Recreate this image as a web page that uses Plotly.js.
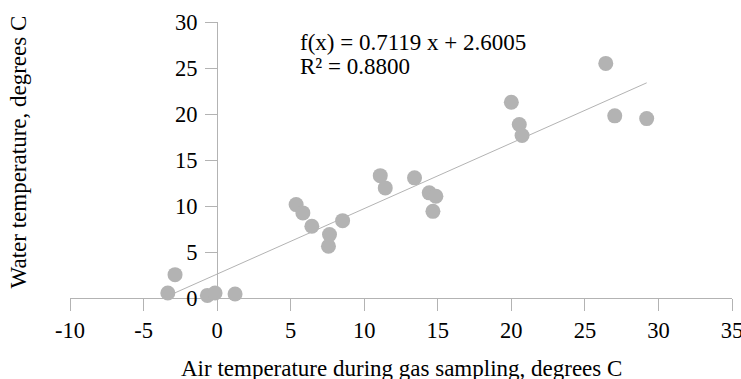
<!DOCTYPE html>
<html>
<head>
<meta charset="utf-8">
<script src="https://cdn.plot.ly/plotly-3.0.1.min.js"></script>
<style>html,body{margin:0;padding:0;background:#fff;}#chart{width:741px;height:379px;}</style>
</head>
<body>
<div id="chart"></div>
<script>
const airTemp = [-3.35, -2.86, -0.66, -0.14, 1.22, 5.37, 5.83, 6.44, 7.64, 7.57, 8.53,
                 11.09, 11.43, 13.42, 14.42, 14.87, 14.67, 20.0, 20.54, 20.73, 26.42, 27.03, 29.2];
const waterTemp = [0.54, 2.54, 0.28, 0.54, 0.43, 10.15, 9.25, 7.8, 6.89, 5.62, 8.41,
                   13.3, 11.97, 13.06, 11.43, 11.06, 9.42, 21.28, 18.86, 17.66, 25.5, 19.8, 19.5];
const slope = 0.7119;
const intercept = 2.6005;
const rSquared = 0.8800;
const xTicks = [-10, -5, 0, 5, 10, 15, 20, 25, 30, 35];
const yTicks = [0, 5, 10, 15, 20, 25, 30];
const xTitle = 'Air temperature during gas sampling, degrees C';
const yTitle = 'Water temperature, degrees C';

const xMin = Math.min(...airTemp), xMax = Math.max(...airTemp);
const fontFam = '"Liberation Serif", "Times New Roman", serif';
const grey = '#b3b3b3';
const tickFont = {family: fontFam, size: 22.5, color: '#000'};
const textFont = {family: fontFam, size: 23, color: '#000'};

const traces = [
  {x: [xMin, xMax], y: [slope * xMin + intercept, slope * xMax + intercept], mode: 'lines',
   line: {color: grey, width: 1}, hoverinfo: 'skip', cliponaxis: false},
  {x: airTemp, y: waterTemp, mode: 'markers', cliponaxis: false,
   marker: {color: grey, size: 15, line: {width: 0}}}
];

const layout = {
  width: 741, height: 379,
  margin: {l: 70, r: 9, t: 22, b: 81},
  paper_bgcolor: '#fff', plot_bgcolor: '#fff',
  showlegend: false,
  font: textFont,
  xaxis: {range: [-10, 35], tickvals: xTicks, ticktext: xTicks.map(String),
          showgrid: false, zeroline: false, showline: true, linecolor: grey, linewidth: 1,
          ticks: 'outside', ticklen: 12, tickcolor: grey, tickwidth: 1,
          ticklabeloverflow: 'allow', tickfont: tickFont},
  yaxis: {range: [0, 30], tickvals: yTicks, ticktext: yTicks.map(String),
          anchor: 'free', position: 10 / 45,
          showgrid: false, zeroline: false, showline: true, linecolor: grey, linewidth: 1,
          ticks: 'outside', ticklen: 12, tickcolor: grey, tickwidth: 1,
          ticklabeloverflow: 'allow', ticklabelstandoff: 3, tickfont: tickFont},
  annotations: [
    {text: 'f(x) = ' + slope.toFixed(4) + ' x + ' + intercept.toFixed(4), x: 5.5, y: 27.78,
     xref: 'x', yref: 'y', xanchor: 'left', yanchor: 'middle', showarrow: false, font: textFont},
    {text: 'R² = ' + rSquared.toFixed(4), x: 5.5, y: 25.17,
     xref: 'x', yref: 'y', xanchor: 'left', yanchor: 'middle', showarrow: false, font: textFont},
    {text: xTitle, x: 0.5, y: -0.256,
     xref: 'paper', yref: 'paper', xanchor: 'center', yanchor: 'middle', showarrow: false, font: textFont},
    {text: yTitle, x: -0.0786, y: 0.531, textangle: -90,
     xref: 'paper', yref: 'paper', xanchor: 'center', yanchor: 'middle', showarrow: false, font: textFont}
  ]
};

Plotly.newPlot('chart', traces, layout, {staticPlot: true, displayModeBar: false});
</script>
</body>
</html>
